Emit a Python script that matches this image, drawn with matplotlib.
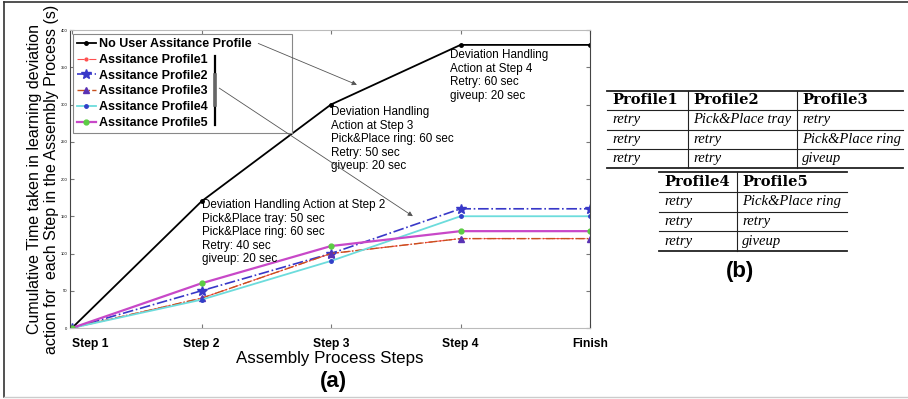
import matplotlib.pyplot as plt

# values
steps = ["Step 1", "Step 2", "Step 3", "Step 4", "Finish"]
no_assist = [0, 170, 300, 380, 380]
profile1 = [0, 40, 100, 120, 120]
profile2 = [0, 50, 100, 160, 160]
profile3 = [0, 40, 100, 120, 120]
profile4 = [0, 38, 90, 150, 150]
profile5 = [0, 60, 110, 130, 130]
y_ticks = [0, 50, 100, 150, 200, 250, 300, 350, 400]

note_step2 = ("Deviation Handling Action at Step 2\nPick&Place tray: 50 sec\n"
              "Pick&Place ring: 60 sec\nRetry: 40 sec\ngiveup: 20 sec")
note_step3 = ("Deviation Handling\nAction at Step 3\nPick&Place ring: 60 sec\n"
              "Retry: 50 sec\ngiveup: 20 sec")
note_step4 = "Deviation Handling\nAction at Step 4\nRetry: 60 sec\ngiveup: 20 sec"

table1_head = ["Profile1", "Profile2", "Profile3"]
table1_rows = [["retry", "Pick&Place tray", "retry"],
               ["retry", "retry", "Pick&Place ring"],
               ["retry", "retry", "giveup"]]
table2_head = ["Profile4", "Profile5"]
table2_rows = [["retry", "Pick&Place ring"],
               ["retry", "retry"],
               ["retry", "giveup"]]

plt.rcParams["font.family"] = ["Liberation Sans", "DejaVu Sans"]

fig = plt.figure(figsize=(9.08, 3.99), dpi=100)
ax = fig.add_axes([70 / 908, 71 / 399, 520 / 908, 298 / 399])

x = list(range(len(steps)))
ax.plot(x, no_assist, "k-", lw=1.3, marker=".", ms=5,
        label="No User Assitance Profile")
ax.plot(x, profile1, color="#ff5050", ls="-.", lw=0.8, marker=".", ms=4,
        label="Assitance Profile1")
ax.plot(x, profile2, color="#3838c8", ls="-.", lw=1.2, marker="*", ms=7,
        label="Assitance Profile2")
ax.plot(x, profile3, color="#c8501e", ls="-.", lw=1.0, marker="^", ms=4,
        mfc="#5a32b4", mec="#5a32b4", label="Assitance Profile3")
ax.plot(x, profile4, color="#6cdcdc", ls="-", lw=1.3, marker=".", ms=5,
        mfc="#3040c8", mec="#3040c8", label="Assitance Profile4")
ax.plot(x, profile5, color="#c848c8", ls="-", lw=1.6, marker="o", ms=3.5,
        mfc="#5ccc44", mec="#5ccc44", label="Assitance Profile5")

ax.set_xlim(-2 / 129.5, 4)
ax.set_ylim(0, 400)
ax.set_xticks(x)
ax.set_xticklabels(steps, fontsize=8.7, fontweight="bold")
ax.get_xticklabels()[0].set_ha("left")
ax.set_yticks(y_ticks)
ax.set_yticklabels([str(v) for v in y_ticks], fontsize=3)
ax.tick_params(direction="in", length=3, top=True, right=True,
               color="#777777", pad=7)
ax.tick_params(axis="y", pad=2)
for side in ["left", "right"]:
    ax.spines[side].set_color("#444444")
for side in ["top", "bottom"]:
    ax.spines[side].set_color("#bbbbbb")

ax.set_xlabel("Assembly Process Steps", fontsize=12.2, labelpad=1)
ax.set_ylabel("Cumulative Time taken in learning deviation\n"
              "action for  each Step in the Assembly Process (s)",
              fontsize=11.5, labelpad=1, linespacing=1.2)

leg = ax.legend(loc="upper left", bbox_to_anchor=(0.006, 0.985, 0.421, 0.0),
                mode="expand", borderaxespad=0,
                prop={"weight": "bold", "size": 9.0},
                handlelength=1.5, handletextpad=0.3, labelspacing=0.3,
                borderpad=0.3, fancybox=False, framealpha=1,
                edgecolor="#888888")
leg.get_frame().set_linewidth(0.8)

ax.text(1.0, 173, note_step2, fontsize=8.4, va="top", ha="left", linespacing=1.17)
ax.text(2.0, 298, note_step3, fontsize=8.4, va="top", ha="left", linespacing=1.17)
ax.text(2.92, 374, note_step4, fontsize=8.4, va="top", ha="left", linespacing=1.17)

# arrows start at the legend texts, so they sit above the legend
arrow = dict(arrowstyle="-|>", color="#555555", lw=0.6, mutation_scale=7,
             shrinkA=0)
ax.annotate("", xy=(2.22, 325), xytext=(0.362, 0.955),
            textcoords="axes fraction", arrowprops=arrow, zorder=7)
ax.annotate("", xy=(2.65, 148), xytext=(0.287, 0.805),
            textcoords="axes fraction", arrowprops=arrow, zorder=7)

# overlay in pixel coordinates for the frame, bracket and tables
ov = fig.add_axes([0, 0, 1, 1], zorder=5)
ov.set_xlim(0, 908)
ov.set_ylim(399, 0)
ov.axis("off")
ov.patch.set_alpha(0)

ov.plot([4, 908], [2, 2], color="#333333", lw=1.2)
ov.plot([4, 4], [2, 397], color="#333333", lw=1.2)
ov.plot([4, 908], [397, 397], color="#cccccc", lw=1.0)

ov.plot([215, 215], [56, 125], color="black", lw=1.6)
ov.plot([215, 215], [75, 105], color="#666666", lw=2.6)

ov.text(333, 382, "(a)", fontsize=16, fontweight="bold", ha="center", va="center")
ov.text(740, 272, "(b)", fontsize=16, fontweight="bold", ha="center", va="center")


def draw_table(x_edges, y_edges, head, rows):
    left, right = x_edges[0], x_edges[-1]
    for i, yy in enumerate(y_edges):
        thick = i in (0, len(y_edges) - 1)
        ov.plot([left, right], [yy, yy], color="#222222", lw=1.3 if thick else 0.8)
    for xx in x_edges[1:-1]:
        ov.plot([xx, xx], [y_edges[0], y_edges[-1]], color="#222222", lw=0.8)
    for j, name in enumerate(head):
        ov.text(x_edges[j] + 5, (y_edges[0] + y_edges[1]) / 2, name,
                fontsize=10.5, fontweight="bold", va="center", ha="left",
                family=["DejaVu Serif"])
    for i, row in enumerate(rows):
        for j, cell in enumerate(row):
            ov.text(x_edges[j] + 5, (y_edges[i + 1] + y_edges[i + 2]) / 2, cell,
                    fontsize=10.5, style="italic", va="center", ha="left",
                    family=["Liberation Serif", "DejaVu Serif"])


draw_table([607, 688, 797, 903], [91, 110, 130, 149, 168], table1_head, table1_rows)
draw_table([659, 737, 847], [172, 192, 212, 231, 251], table2_head, table2_rows)

fig.savefig("out.png", dpi=100)
